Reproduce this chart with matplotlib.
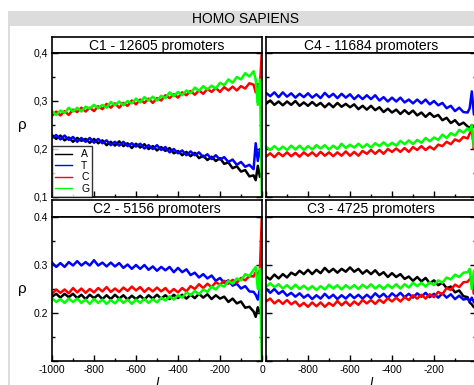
import matplotlib
matplotlib.use("Agg")
import matplotlib.pyplot as plt
from matplotlib.patches import Rectangle
from matplotlib.ticker import MultipleLocator, FixedLocator, FixedFormatter

plt.rcParams['font.family'] = ['Liberation Sans', 'DejaVu Sans']

# positions along the promoter (every 20 bases, finer near the TSS)
pos = list(range(-1000, -40, 20)) + [-40, -30, -20, -10, 0]

# C1 - 12605 promoters
c1_A = [.229, .221, .228, .218, .224, .215, .223, .217, .221, .213,
        .221, .212, .218, .208, .215, .207, .216, .206, .212, .202,
        .211, .203, .210, .200, .206, .197, .204, .196, .202, .191,
        .196, .187, .194, .185, .192, .181, .186, .177, .184, .175,
        .181, .169, .172, .160, .164, .153, .156, .143,
        .145, .135, .165, .142, .150]
c1_T = [.223, .229, .220, .228, .219, .225, .215, .223, .215, .223,
        .213, .221, .212, .218, .208, .215, .207, .215, .206, .212,
        .205, .211, .201, .208, .200, .208, .198, .204, .193, .200,
        .191, .197, .187, .195, .187, .193, .183, .189, .179, .187,
        .178, .183, .173, .178, .167, .173, .163, .167,
        .158, .212, .175, .200, .190]
c1_C = [.269, .278, .270, .279, .271, .282, .277, .286, .278, .286,
        .279, .289, .283, .294, .286, .295, .286, .296, .290, .301,
        .293, .303, .296, .305, .296, .306, .301, .312, .306, .314,
        .307, .318, .312, .321, .313, .322, .315, .325, .319, .327,
        .319, .329, .322, .330, .322, .331, .326, .337,
        .334, .318, .335, .330, .410]
c1_G = [.279, .271, .280, .275, .286, .278, .286, .278, .288, .284,
        .292, .285, .292, .286, .298, .291, .299, .291, .300, .295,
        .305, .297, .308, .301, .309, .301, .311, .306, .318, .310,
        .319, .312, .322, .316, .328, .321, .331, .324, .332, .326,
        .338, .333, .345, .338, .350, .345, .358, .351,
        .362, .345, .292, .345, .090]

# C4 - 11684 promoters
c4_A = [.294, .301, .292, .299, .291, .299, .292, .300, .290, .297,
        .290, .298, .290, .296, .287, .295, .287, .296, .288, .294,
        .287, .293, .283, .290, .282, .290, .281, .287, .277, .284,
        .276, .282, .273, .281, .273, .280, .270, .276, .267, .275,
        .267, .271, .260, .265, .254, .260, .250, .255,
        .247, .244, .250, .246, .245]
c4_T = [.317, .310, .318, .308, .318, .309, .316, .307, .315, .308,
        .316, .307, .314, .306, .317, .308, .315, .306, .315, .307,
        .314, .304, .312, .304, .312, .304, .312, .301, .308, .299,
        .307, .299, .307, .297, .303, .295, .303, .295, .303, .293,
        .300, .291, .296, .285, .290, .279, .286, .277,
        .276, .285, .320, .272, .270]
c4_C = [.184, .191, .183, .192, .185, .193, .185, .192, .184, .193,
        .186, .193, .185, .194, .186, .193, .185, .193, .186, .195,
        .186, .194, .186, .196, .190, .198, .190, .198, .190, .200,
        .194, .201, .194, .202, .194, .204, .198, .206, .198, .205,
        .199, .209, .206, .215, .210, .220, .216, .225,
        .222, .232, .240, .200, .230]
c4_G = [.205, .198, .206, .198, .205, .198, .207, .199, .207, .198,
        .206, .199, .208, .201, .208, .199, .207, .200, .211, .202,
        .209, .203, .211, .203, .210, .203, .212, .206, .214, .206,
        .213, .207, .217, .210, .218, .210, .219, .213, .223, .216,
        .224, .219, .230, .223, .233, .228, .240, .234,
        .243, .238, .250, .205, .235]

# C2 - 5156 promoters
c2_A = [.234, .240, .232, .240, .233, .240, .231, .238, .229, .238,
        .231, .238, .229, .237, .229, .238, .230, .237, .228, .236,
        .229, .236, .228, .237, .230, .238, .230, .237, .229, .238,
        .231, .238, .230, .238, .231, .240, .232, .239, .229, .237,
        .230, .234, .223, .230, .220, .224, .211, .213,
        .203, .192, .212, .200, .205]
c2_T = [.305, .296, .304, .296, .306, .299, .308, .299, .306, .299,
        .310, .299, .305, .297, .305, .297, .304, .294, .301, .292,
        .300, .292, .300, .290, .297, .288, .296, .289, .296, .285,
        .294, .285, .291, .279, .284, .274, .281, .272, .278, .267,
        .273, .263, .268, .257, .261, .251, .256, .245,
        .244, .238, .228, .250, .235]
c2_C = [.240, .249, .242, .249, .241, .252, .243, .251, .242, .250,
        .243, .252, .245, .254, .244, .251, .244, .253, .246, .255,
        .247, .254, .244, .252, .245, .253, .245, .252, .242, .250,
        .243, .252, .245, .256, .250, .260, .252, .261, .254, .264,
        .259, .267, .261, .269, .263, .273, .268, .277,
        .276, .285, .280, .290, .410]
c2_G = [.231, .223, .229, .221, .230, .223, .230, .221, .228, .219,
        .229, .221, .228, .219, .227, .220, .230, .221, .228, .219,
        .228, .221, .230, .221, .229, .222, .232, .226, .235, .228,
        .237, .232, .243, .237, .246, .239, .249, .244, .255, .249,
        .259, .255, .267, .261, .272, .268, .281, .277,
        .290, .296, .250, .292, .090]

# C3 - 4725 promoters
c3_A = [.276, .270, .280, .272, .281, .274, .284, .279, .288, .281,
        .290, .281, .290, .283, .294, .285, .292, .284, .292, .286,
        .295, .286, .292, .282, .289, .281, .289, .279, .285, .275,
        .283, .275, .281, .271, .276, .267, .275, .266, .273, .262,
        .268, .258, .263, .252, .255, .243, .247, .235,
        .233, .222, .218, .212, .210]
c3_T = [.251, .242, .250, .240, .246, .236, .242, .234, .241, .232,
        .238, .229, .237, .230, .240, .231, .238, .229, .237, .230,
        .239, .231, .238, .230, .238, .231, .241, .233, .240, .231,
        .241, .234, .242, .233, .240, .232, .241, .234, .242, .233,
        .240, .232, .241, .232, .239, .229, .236, .228,
        .230, .224, .232, .222, .225]
c3_C = [.224, .230, .220, .227, .219, .227, .218, .224, .214, .221,
        .213, .222, .214, .222, .213, .221, .215, .225, .216, .224,
        .215, .224, .217, .227, .220, .227, .219, .228, .221, .231,
        .224, .232, .224, .233, .227, .237, .230, .238, .230, .239,
        .233, .244, .239, .252, .248, .259, .254, .264,
        .265, .270, .275, .240, .270]
c3_G = [.254, .262, .254, .260, .251, .258, .250, .259, .250, .257,
        .249, .256, .248, .256, .249, .259, .251, .258, .249, .258,
        .251, .258, .250, .259, .252, .260, .251, .258, .250, .259,
        .252, .260, .251, .260, .253, .263, .256, .263, .255, .264,
        .258, .268, .263, .274, .270, .280, .275, .284,
        .285, .292, .250, .288, .280]

bases = ['A', 'T', 'C', 'G']
colors = ['black', '#0000ff', '#ff0000', '#00ff00']
titles = ['C1 - 12605 promoters', 'C4 - 11684 promoters',
          'C2 - 5156 promoters', 'C3 - 4725 promoters']
panels = [[c1_A, c1_T, c1_C, c1_G], [c4_A, c4_T, c4_C, c4_G],
          [c2_A, c2_T, c2_C, c2_G], [c3_A, c3_T, c3_C, c3_G]]

W, H = 474, 385
fig = plt.figure(figsize=(W / 100, H / 100), dpi=100)


def px_axes(x0, y0, x1, y1):
    return fig.add_axes([x0 / W, 1 - y1 / H, (x1 - x0) / W, (y1 - y0) / H])


# gray frame with title band (behind the axes)
fig.add_artist(Rectangle((8 / W, 0), 1, 1 - 11 / H, transform=fig.transFigure,
                         facecolor='#dcdcdc', edgecolor='none', zorder=-5))
fig.add_artist(Rectangle((10 / W, 0), 1, 1 - 26 / H, transform=fig.transFigure,
                         facecolor='white', edgecolor='none', zorder=-4))
fig.text(246 / W, 1 - 19 / H, 'HOMO SAPIENS', ha='center', va='center', fontsize=10)

# (x0, x1, y_header, y_top, y_bottom) in pixels
boxes = [(52, 262, 37, 53, 197), (266, 476, 37, 53, 197),
         (52, 262, 200, 217, 361), (266, 476, 200, 217, 361)]

for k, (x0, x1, yh, yt, yb) in enumerate(boxes):
    # header strip
    hx = px_axes(x0, yh, x1, yt)
    hx.set_xticks([])
    hx.set_yticks([])
    for s in hx.spines.values():
        s.set_linewidth(1.2)
    hx.text(0.5, 0.45, titles[k], ha='center', va='center', fontsize=10,
            transform=hx.transAxes)

    ax = px_axes(x0, yt, x1, yb)
    for vals, b, c in zip(panels[k], bases, colors):
        ax.plot(pos, vals, color=c, lw=1.8, label=b)
    ax.set_xlim(-1000, 0)
    ax.set_ylim(0.1, 0.4)
    for s in ax.spines.values():
        s.set_linewidth(1.2)
    ax.xaxis.set_major_locator(MultipleLocator(200))
    ax.xaxis.set_minor_locator(MultipleLocator(100))
    ax.yaxis.set_major_locator(FixedLocator([0.1, 0.2, 0.3, 0.4]))
    ax.yaxis.set_minor_locator(MultipleLocator(0.05))
    ax.tick_params(which='both', direction='in', right=True, top=False,
                   labelsize=7.5, width=1, pad=3)
    ax.tick_params(which='major', length=4)
    ax.tick_params(which='minor', length=2)

    if k == 0:
        ax.yaxis.set_major_formatter(FixedFormatter(['0,1', '0,2', '0,3', '0,4']))
    elif k == 2:
        ax.yaxis.set_major_formatter(FixedFormatter(['', '0.2', '0.3', '0.4']))
    else:
        ax.set_yticklabels([])

    if k == 2:
        ax.set_xticks([-1000, -800, -600, -400, -200, 0])
        ax.set_xticklabels(['-1000', '-800', '-600', '-400', '-200', '0'])
    elif k == 3:
        ax.set_xticks([-1000, -800, -600, -400, -200, 0])
        ax.set_xticklabels(['', '-800', '-600', '-400', '-200', '0'])
    else:
        ax.set_xticklabels([])

    if k in (0, 2):
        ax.set_ylabel('ρ', fontsize=11, rotation=0, labelpad=8, va='center')
    if k in (2, 3):
        ax.set_xlabel('l', fontsize=10, style='italic', labelpad=1)

    if k == 0:
        leg = ax.legend(loc='lower left', fontsize=7.5, frameon=True, fancybox=False,
                        edgecolor='black', borderaxespad=0, handlelength=1.6,
                        labelspacing=0.15, borderpad=0.3, handletextpad=0.9)
        leg.get_frame().set_linewidth(1.0)
        for h in leg.get_lines():
            h.set_linewidth(1.0)

fig.savefig('out.png', dpi=100)
